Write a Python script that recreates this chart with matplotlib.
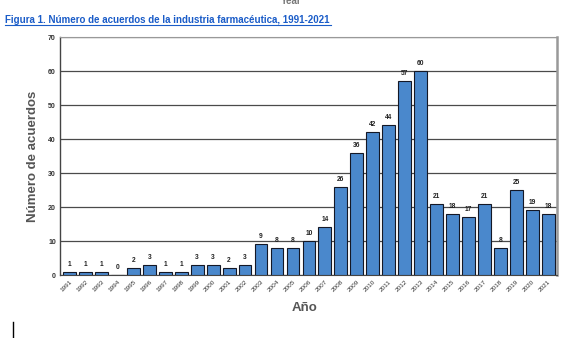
import matplotlib.pyplot as plt
import numpy as np
from matplotlib.lines import Line2D

years = [str(y) for y in range(1991, 2022)]
acuerdos = [1, 1, 1, 0, 2, 3, 1, 1, 3, 3, 2, 3, 9, 8, 8, 10, 14, 26, 36, 42, 44,
            57, 60, 21, 18, 17, 21, 8, 25, 19, 18]
yticks = [0, 10, 20, 30, 40, 50, 60, 70]

plt.rcParams['font.family'] = ['Liberation Sans', 'DejaVu Sans']

fig = plt.figure(figsize=(5.85, 3.38), dpi=100)
W, H = 585, 338
ax = fig.add_axes([60 / W, 1 - 275 / H, 497 / W, 238 / H])

x = np.arange(len(years))
ax.bar(x, acuerdos, width=0.8, color='#4a88cc', edgecolor='#141826', linewidth=0.8, zorder=3)
for xi, v in zip(x, acuerdos):
    ax.text(xi, v + 1.2, str(v), ha='center', va='bottom', fontsize=4.8,
            fontweight='bold', color='#222222')

ax.set_xlim(-0.6, len(years) - 0.45)
ax.set_ylim(0, 70)
ax.set_yticks(yticks)
ax.set_yticklabels([str(t) for t in yticks], fontsize=5, fontweight='bold', color='#333333')
ax.set_xticks(x)
ax.set_xticklabels(years, rotation=45, ha='right', rotation_mode='anchor',
                   fontsize=4.6, color='#333333')
ax.tick_params(axis='both', length=0, pad=3)
ax.grid(axis='y', color='#4a4a4a', linewidth=0.9, zorder=0)

ax.spines['left'].set_color('#444444')
ax.spines['left'].set_linewidth(1.0)
ax.spines['bottom'].set_color('#444444')
ax.spines['top'].set_color('#999999')
ax.spines['right'].set_color('#999999')
ax.spines['right'].set_linewidth(1.8)

ax.set_ylabel('Número de acuerdos', fontsize=9.5, fontweight='bold', color='#555555')
ax.yaxis.set_label_coords((39 - 60) / 497, 0.5)
ax.set_xlabel('Año', fontsize=9.5, fontweight='bold', color='#555555')
ax.xaxis.set_label_coords((305 - 60) / 497, -0.115)

fig.text(5 / W, 1 - 20 / H, 'Figura 1. Número de acuerdos de la industria farmacéutica, 1991-2021',
         fontsize=7.05, fontweight='bold', color='#1a5cc8', ha='left', va='center')
fig.add_artist(Line2D([5 / W, 331 / W], [1 - 25 / H, 1 - 25 / H], color='#1a5cc8', linewidth=0.8))
fig.text(291 / W, 1 - 1 / H, 'Year', fontsize=7, fontweight='bold', color='#777777',
         ha='center', va='center')
fig.add_artist(Line2D([13 / W, 13 / W], [0, 16 / H], color='black', linewidth=1.0))

fig.savefig('out.png', dpi=100)
